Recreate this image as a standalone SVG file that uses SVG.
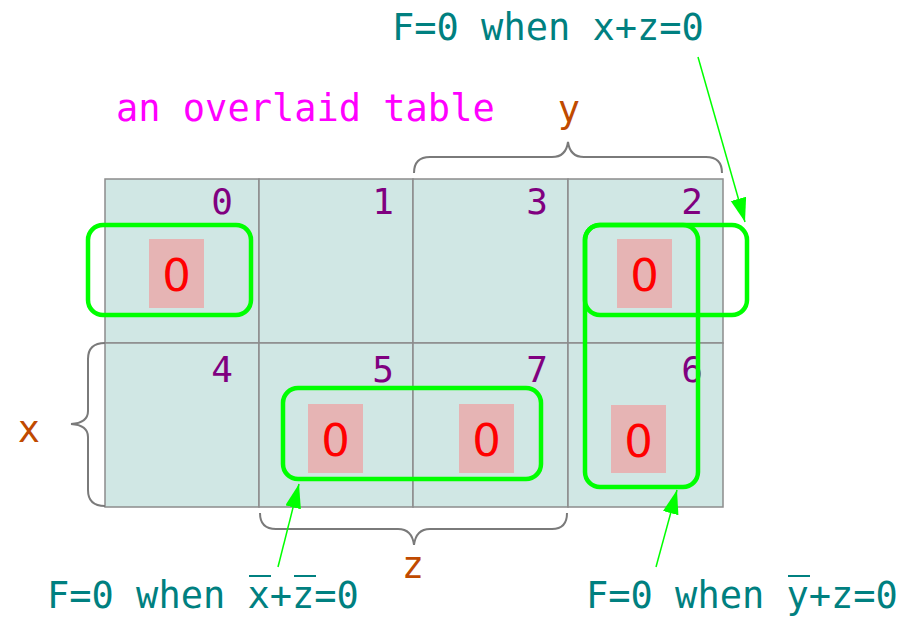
<svg xmlns="http://www.w3.org/2000/svg" width="915" height="619" viewBox="0 0 915 619">
<style>
.cell{fill:#d0e7e4;stroke:#8c8c8c;stroke-width:1.5}
.num{font-family:"DejaVu Sans Mono",monospace;font-size:36px;fill:#800080;text-anchor:end}
.zbox{fill:#e6b4b4}
.zero{font-family:"DejaVu Sans",sans-serif;font-size:45px;fill:#ff0000;text-anchor:middle}
.grp{fill:none;stroke:#00ff00;stroke-width:4.5}
.brace{fill:none;stroke:#7a7a7a;stroke-width:2}
.var{font-family:"DejaVu Sans Mono",monospace;font-size:37px;fill:#c04a00;text-anchor:middle}
.lbl{font-family:"DejaVu Sans Mono",monospace;font-size:37px;fill:#008080}
.ttl{font-family:"DejaVu Sans Mono",monospace;font-size:37px;fill:#ff00ff}
.bar{stroke:#008080;stroke-width:2}
.arr{stroke:#00ff00;stroke-width:1.5;fill:none;marker-end:url(#ah)}
</style>
<defs>
<marker id="ah" markerUnits="userSpaceOnUse" markerWidth="28" markerHeight="20" refX="24" refY="8" orient="auto">
<path d="M0,0 L24,8 L0,16 Z" fill="#00ff00"/>
</marker>
</defs>
<g id="cells">
<g id="cell0"><rect class="cell" x="105" y="179" width="154" height="164"/><text class="num" x="233" y="214">0</text><rect class="zbox" x="149" y="239" width="55" height="69"/><text class="zero" x="176.5" y="291">0</text></g>
<g id="cell1"><rect class="cell" x="259" y="179" width="154" height="164"/><text class="num" x="394" y="214">1</text></g>
<g id="cell3"><rect class="cell" x="413" y="179" width="155" height="164"/><text class="num" x="548" y="214">3</text></g>
<g id="cell2"><rect class="cell" x="568" y="179" width="155" height="164"/><text class="num" x="703" y="214">2</text><rect class="zbox" x="617" y="239" width="55" height="69"/><text class="zero" x="644.5" y="291">0</text></g>
<g id="cell4"><rect class="cell" x="105" y="343" width="154" height="164"/><text class="num" x="233" y="382">4</text></g>
<g id="cell5"><rect class="cell" x="259" y="343" width="154" height="164"/><text class="num" x="394" y="382">5</text><rect class="zbox" x="308" y="404" width="55" height="69"/><text class="zero" x="335.5" y="456">0</text></g>
<g id="cell7"><rect class="cell" x="413" y="343" width="155" height="164"/><text class="num" x="548" y="382">7</text><rect class="zbox" x="459" y="404" width="55" height="69"/><text class="zero" x="486.5" y="456">0</text></g>
<g id="cell6"><rect class="cell" x="568" y="343" width="155" height="164"/><text class="num" x="703" y="382">6</text><rect class="zbox" x="611" y="405" width="55" height="68"/><text class="zero" x="638.5" y="457">0</text></g>
</g>
<g id="groups">
<rect id="g0" class="grp" x="88" y="225" width="163" height="90" rx="15"/>
<rect id="g2h" class="grp" x="585" y="225" width="162" height="90" rx="15"/>
<rect id="g26" class="grp" x="585" y="225" width="113" height="262" rx="15"/>
<rect id="g57" class="grp" x="283" y="388" width="258" height="91" rx="15"/>
</g>
<g id="braces">
<path id="brace-y" class="brace" d="M414,173 Q414,157 430,157 L552,157 Q566,157 568,142 Q570,157 584,157 L706,157 Q722,157 722,173"/>
<path id="brace-z" class="brace" d="M260,513 Q260,529 276,529 L398,529 Q412,529 414,545 Q416,529 430,529 L552,529 Q567,529 567,513"/>
<path id="brace-x" class="brace" d="M105,343 Q88,343 88,359 L88,411 Q88,423 71,424 Q88,425 88,437 L88,490 Q88,506 105,506"/>
</g>
<g id="labels">
<text class="ttl" x="116" y="121">an overlaid table</text>
<text class="var" x="569" y="122">y</text>
<text class="var" x="29" y="442">x</text>
<text class="var" x="413" y="578">z</text>
<text class="lbl" x="392" y="40">F=0 when x+z=0</text>
<text class="lbl" x="47" y="608">F=0 when x+z=0</text>
<line class="bar" x1="249" y1="576" x2="271" y2="576"/>
<line class="bar" x1="294" y1="576" x2="316" y2="576"/>
<text class="lbl" x="586" y="608">F=0 when y+z=0</text>
<line class="bar" x1="788" y1="576" x2="810" y2="576"/>
</g>
<g id="connectors">
<line class="arr" x1="698" y1="57" x2="745" y2="222"/>
<line class="arr" x1="278" y1="567" x2="299" y2="484"/>
<line class="arr" x1="656" y1="567" x2="677" y2="490"/>
</g>
</svg>
